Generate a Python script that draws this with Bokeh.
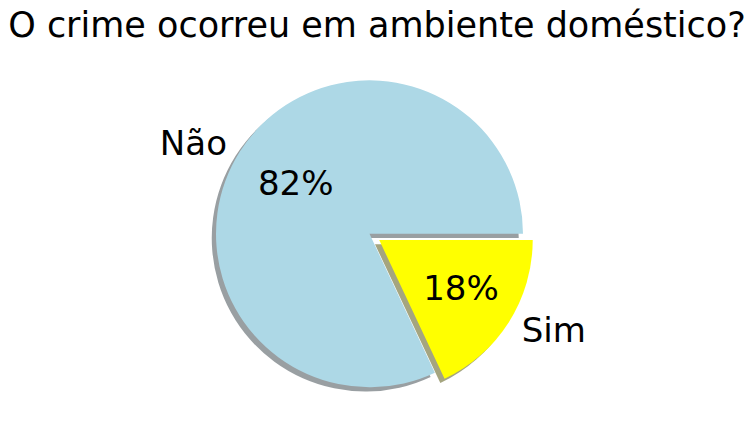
import math
from bokeh.plotting import figure
from bokeh.models import Range1d
from bokeh.core.properties import value
from bokeh.embed import file_html
from bokeh.resources import INLINE

# ---- data ----
title = "O crime ocorreu em ambiente doméstico?"
labels = ["Não", "Sim"]
values = [82, 18]
explode = [0.0, 0.075]
colors = ["#add8e6", "#ffff00"]

# ---- layout ----
W, H = 751, 440
CX, CY = 369.0, H - 233.3
R = 153.5
FONT = "DejaVu Sans"
FS = "34px"
TFS = "35px"
SHADOW_OFF = 4.25

p = figure(width=W, height=H, output_backend="svg", toolbar_location=None,
           x_range=Range1d(0, W), y_range=Range1d(0, H),
           x_axis_location=None, y_axis_location=None, min_border=0)
p.grid.visible = False
p.outline_line_color = None
p.background_fill_color = "white"
p.border_fill_color = "white"

total = float(sum(values))
wedges = []
theta = 0.0
for lab, v, ex, col in zip(labels, values, explode, colors):
    frac = v / total
    t1 = theta + 2 * math.pi * frac
    tm = (theta + t1) / 2
    cx = CX + ex * R * math.cos(tm)
    cy = CY + ex * R * math.sin(tm)
    wedges.append((lab, frac, theta, t1, tm, cx, cy, col))
    theta = t1

def shade(hexcol):
    r = int(hexcol[1:3], 16); g = int(hexcol[3:5], 16); b = int(hexcol[5:7], 16)
    return "#%02x%02x%02x" % (int(r * 0.3), int(g * 0.3), int(b * 0.3))

# shadows
for lab, frac, t0, t1, tm, cx, cy, col in wedges:
    p.wedge(x=[cx - SHADOW_OFF], y=[cy - SHADOW_OFF], radius=R,
            start_angle=t0, end_angle=t1, fill_color=shade(col), fill_alpha=0.5,
            line_color=None)

# wedges
for lab, frac, t0, t1, tm, cx, cy, col in wedges:
    p.wedge(x=[cx], y=[cy], radius=R, start_angle=t0, end_angle=t1,
            fill_color=col, line_color=None)

# labels and percentages
for lab, frac, t0, t1, tm, cx, cy, col in wedges:
    lx = cx + 1.1 * R * math.cos(tm)
    ly = cy + 1.1 * R * math.sin(tm)
    align = "left" if math.cos(tm) > 0 else "right"
    p.text(x=[lx], y=[ly], text=[lab], text_align=align, text_baseline="middle",
           text_font=value(FONT), text_font_size=FS, text_color="black")
    px = cx + 0.6 * R * math.cos(tm)
    py = cy + 0.6 * R * math.sin(tm)
    p.text(x=[px], y=[py], text=["%1.0f%%" % (frac * 100)], text_align="center",
           text_baseline="middle", text_font=value(FONT), text_font_size=FS,
           text_color="black", x_offset=4, y_offset=-1)

p.text(x=[W / 2 + 1], y=[H - 24.5], text=[title], text_align="center",
       text_baseline="middle", text_font=value(FONT), text_font_size=TFS,
       text_color="black")

open("out.html", "w").write(file_html(p, INLINE))
